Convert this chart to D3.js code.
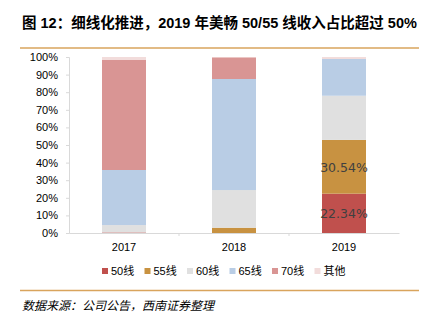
<!DOCTYPE html>
<html>
<head>
<meta charset="utf-8">
<script src="https://cdn.jsdelivr.net/npm/d3@7"></script>
<style>
  body { margin: 0; background: #fff; }
  svg { display: block; }
</style>
</head>
<body>
<div id="chart"></div>
<script>
// years on the x axis
const years = ["2017", "2018", "2019"];
// share of revenue per wire type (%)
const series = ["50线", "55线", "60线", "65线", "70线", "其他"];
const v50 = [0.3, 0, 22.34];
const v55 = [0, 3.0, 30.54];
const v60 = [4.2, 21.4, 25.1];
const v65 = [31.3, 63.1, 20.9];
const v70 = [62.5, 12.3, 0];
const vOther = [1.7, 0.2, 1.1];
const yTicks = [0, 10, 20, 30, 40, 50, 60, 70, 80, 90, 100];
const colors = ["#c0504d", "#c89241", "#e0e0e0", "#b9cde5", "#d99594", "#f2dcdb"];

const width = 428, height = 321;
const svg = d3.select("#chart").append("svg")
    .attr("width", width)
    .attr("height", height);

const font = "Liberation Sans, Arial, Noto Sans CJK SC, sans-serif";

// title
svg.append("text")
    .attr("x", 22)
    .attr("y", 28)
    .attr("font-family", font)
    .attr("font-size", 14.5)
    .attr("font-weight", "bold")
    .attr("fill", "#000")
    .text("图 12：细线化推进，2019 年美畅 50/55 线收入占比超过 50%");

svg.append("line")
    .attr("x1", 20).attr("x2", 419)
    .attr("y1", 48).attr("y2", 48)
    .attr("stroke", "#d9a45c")
    .attr("stroke-width", 1.5);

// build stacked data
const rows = years.map((y, i) => ({
    year: y,
    "50线": v50[i], "55线": v55[i], "60线": v60[i],
    "65线": v65[i], "70线": v70[i], "其他": vOther[i]
}));
const stacked = d3.stack().keys(series)(rows);

const x = d3.scaleBand().domain(years).range([69, 399]).paddingInner(0.6).paddingOuter(0.3);
const y = d3.scaleLinear().domain([0, 100]).range([233, 57]);

// y axis
const yAxis = svg.append("g")
    .attr("transform", "translate(69,0)")
    .call(d3.axisLeft(y).tickValues(yTicks).tickFormat(d => d + "%").tickSize(3).tickPadding(8));
yAxis.select(".domain").attr("stroke", "#d9d9d9");
yAxis.selectAll(".tick line").attr("stroke", "#d9d9d9");
yAxis.selectAll("text")
    .attr("font-family", font)
    .attr("font-size", 11)
    .attr("fill", "#000");

// bars
svg.append("g").selectAll("g")
    .data(stacked)
    .enter().append("g")
    .attr("fill", (d, i) => colors[i])
    .selectAll("rect")
    .data(d => d)
    .enter().append("rect")
    .attr("x", d => x(d.data.year))
    .attr("width", x.bandwidth())
    .attr("y", d => y(d[1]))
    .attr("height", d => y(d[0]) - y(d[1]));

// x axis
const xb = d3.scaleBand().domain(years).range([69, 399]);
const xAxis = svg.append("g")
    .attr("transform", "translate(0,233)")
    .call(d3.axisBottom(xb).tickSize(0).tickPadding(10));
xAxis.select(".domain").attr("stroke", "#d9d9d9");
xAxis.selectAll("text")
    .attr("font-family", font)
    .attr("font-size", 11)
    .attr("fill", "#000");
// separator ticks between categories
svg.append("g").selectAll("line")
    .data(years.slice(1))
    .enter().append("line")
    .attr("x1", d => xb(d)).attr("x2", d => xb(d))
    .attr("y1", 233).attr("y2", 236)
    .attr("stroke", "#d9d9d9");

// data labels on 2019
const labelled = [0, 1];
labelled.forEach(si => {
    const d = stacked[si][2];
    svg.append("text")
        .attr("x", x(d.data.year) + x.bandwidth() / 2)
        .attr("y", (y(d[0]) + y(d[1])) / 2 + 5)
        .attr("text-anchor", "middle")
        .attr("font-family", "DejaVu Sans, sans-serif")
        .attr("font-size", 12.5)
        .attr("fill", "#404040")
        .text((d[1] - d[0]).toFixed(2) + "%");
});

// legend
const legend = svg.append("g").selectAll("g")
    .data(series)
    .enter().append("g")
    .attr("transform", (d, i) => `translate(${102 + i * 42.5},272)`);
legend.append("rect")
    .attr("x", 0).attr("y", -4)
    .attr("width", 6).attr("height", 6)
    .attr("fill", (d, i) => colors[i]);
legend.append("text")
    .attr("x", 9).attr("y", 3)
    .attr("font-family", font)
    .attr("font-size", 11)
    .attr("fill", "#000")
    .text(d => d);

// bottom rule and source
svg.append("line")
    .attr("x1", 20).attr("x2", 419)
    .attr("y1", 290.5).attr("y2", 290.5)
    .attr("stroke", "#d9a45c")
    .attr("stroke-width", 1.5);

svg.append("text")
    .attr("x", 22)
    .attr("y", 310)
    .attr("font-family", "Noto Sans CJK SC, sans-serif")
    .attr("font-size", 12)
    .attr("font-style", "italic")
    .attr("fill", "#000")
    .text("数据来源：公司公告，西南证券整理");
</script>
</body>
</html>
